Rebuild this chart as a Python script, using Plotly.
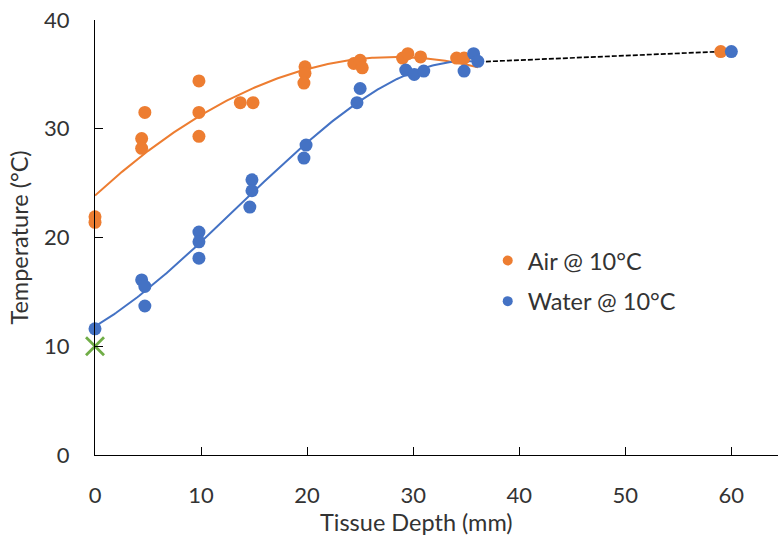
import numpy as np
import plotly.graph_objects as go

# Tissue temperature readings (depth in mm, temperature in °C)
air_depth = [0, 0, 4.7, 4.4, 4.4, 9.8, 9.8, 9.8, 13.7, 14.9, 19.8, 19.8, 19.7,
             24.4, 25.0, 25.2, 29.0, 29.5, 30.7, 34.1, 34.8]
air_temp = [21.9, 21.4, 31.5, 29.1, 28.2, 34.4, 31.5, 29.3, 32.4, 32.4, 35.7, 35.1, 34.2,
            36.0, 36.3, 35.6, 36.5, 36.9, 36.6, 36.5, 36.5]

water_depth = [0, 4.4, 4.7, 4.7, 9.8, 9.8, 9.8, 14.8, 14.8, 14.6, 19.9, 19.7,
               25.0, 24.7, 29.3, 30.1, 31.0, 34.8, 35.7, 36.1]
water_temp = [11.6, 16.1, 15.5, 13.7, 20.5, 19.6, 18.1, 25.3, 24.3, 22.8, 28.5, 27.3,
              33.7, 32.4, 35.4, 35.0, 35.3, 35.3, 36.9, 36.2]

# Core readings far from the surface
core_air_depth, core_air_temp = [59.0], [37.1]
core_water_depth, core_water_temp = [60.0], [37.1]

# Bridge between end of fitted region and core readings
bridge_depth = [36.2, 59.0]
bridge_temp = [36.15, 37.1]

# Ambient water temperature at the surface
ambient_depth, ambient_temp = [0], [10]

ORANGE = "#ED7D31"
BLUE = "#4472C4"
GREEN = "#70AD47"
FONT = "Lato"
TEXT = "#333333"

# Polynomial trendlines over the measured range
air_fit = np.polyfit(air_depth, air_temp, 2)
water_fit = np.polyfit(water_depth, water_temp, 3)
air_x = np.linspace(min(air_depth), max(air_depth + water_depth), 200)
water_x = np.linspace(min(water_depth), max(water_depth), 200)

fig = go.Figure()

fig.add_trace(go.Scatter(x=air_x, y=np.polyval(air_fit, air_x), mode="lines",
                         line=dict(color=ORANGE, width=2), showlegend=False,
                         hoverinfo="skip"))
fig.add_trace(go.Scatter(x=water_x, y=np.polyval(water_fit, water_x), mode="lines",
                         line=dict(color=BLUE, width=2), showlegend=False,
                         hoverinfo="skip"))
fig.add_trace(go.Scatter(x=bridge_depth, y=bridge_temp, mode="lines",
                         line=dict(color="black", width=1.7, dash="5px,2px"),
                         showlegend=False))

fig.add_trace(go.Scatter(x=air_depth + core_air_depth, y=air_temp + core_air_temp,
                         mode="markers", marker=dict(color=ORANGE, size=13),
                         showlegend=False))
fig.add_trace(go.Scatter(x=water_depth + core_water_depth, y=water_temp + core_water_temp,
                         mode="markers", marker=dict(color=BLUE, size=13),
                         showlegend=False))
fig.add_trace(go.Scatter(x=ambient_depth, y=ambient_temp, mode="markers",
                         marker=dict(symbol="x-thin", size=18, color=GREEN,
                                     line=dict(color=GREEN, width=2.8)),
                         showlegend=False))

# Legend entries
fig.add_trace(go.Scatter(x=[None], y=[None], mode="markers", name="Air @ 10°C",
                         marker=dict(color=ORANGE, size=10), legendgroup="a"))
fig.add_trace(go.Scatter(x=[None], y=[None], mode="markers", name="Water @ 10°C",
                         marker=dict(color=BLUE, size=10), legendgroup="w"))

fig.update_traces(cliponaxis=False)

fig.update_layout(
    width=778, height=546,
    margin=dict(l=94.5, r=0, t=20, b=91),
    paper_bgcolor="white", plot_bgcolor="white",
    font=dict(family=FONT, size=21, color=TEXT),
    showlegend=True,
    legend=dict(x=0.575, y=0.497, xanchor="left", yanchor="top",
                bgcolor="rgba(0,0,0,0)", font=dict(size=23.5, color=TEXT),
                tracegroupgap=7),
    xaxis=dict(range=[0, 64.4], tickvals=[0, 10, 20, 30, 40, 50, 60],
               showgrid=False, zeroline=False, showline=True, linecolor="black",
               linewidth=1.3, ticks="inside", ticklen=8, tickcolor="black",
               tickwidth=1.3, ticklabelstandoff=20, tickfont=dict(size=22)),
    yaxis=dict(range=[0, 40], tickvals=[0, 10, 20, 30, 40],
               showgrid=False, zeroline=False, showline=True, linecolor="black",
               linewidth=1.3, ticks="inside", ticklen=8, tickcolor="black",
               tickwidth=1.3, ticklabelstandoff=20, tickfont=dict(size=22),
               title=dict(text="Temperature (°C)", standoff=8, font=dict(size=23.5))),
    annotations=[dict(text="Tissue Depth (mm)", xref="paper", yref="paper",
                      x=0.47, y=-0.155, xanchor="center", yanchor="middle",
                      showarrow=False, font=dict(size=23.5, color=TEXT))],
)

fig.write_html("out.html")
